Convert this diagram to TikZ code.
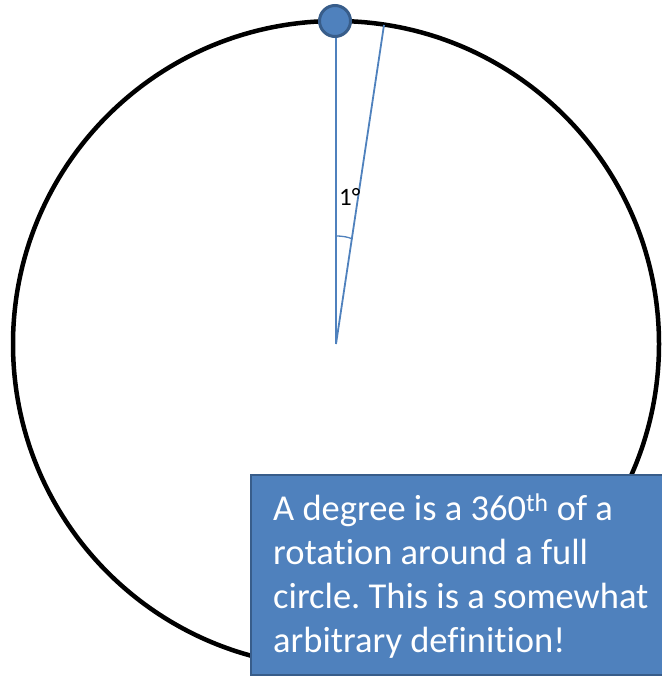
\documentclass[tikz,border=0pt]{standalone}
\usepackage{fontspec}
\setmainfont{Carlito}[Ligatures={NoCommon}]
\frenchspacing
\definecolor{accent}{HTML}{4F81BD}
\definecolor{accentdark}{HTML}{385D8A}
\tikzset{
  ray/.style={draw=accent, line width=1.8pt},
  rim/.style={draw=black, line width=4.5pt},
  dotmark/.style={circle, fill=accent, draw=accentdark, line width=3pt, minimum size=31pt, inner sep=0pt},
  notebox/.style={fill=accent, draw=accentdark, line width=2.5pt},
  notetext/.style={text=white, font=\fontsize{36.5}{44}\selectfont, align=left, anchor=north west, inner sep=0pt}
}
\begin{document}
\begin{tikzpicture}[x=1pt,y=-1pt]
\useasboundingbox (0,0) rectangle (661,677);
\coordinate (C) at (336,344);
\draw[rim] (C) circle[radius=323];
\coordinate (T) at (336,22);
\coordinate (E) at (384,25);
\draw[ray] (C) -- (T);
\draw[ray] (C) -- (E);
\draw[ray, line width=1.3pt] (335.5,236) .. controls (343,236) and (348,237) .. (352.5,239);
\node[anchor=base west, inner sep=0pt, font=\fontsize{25}{28}\selectfont] (lbl) at (339,205) {1°};
\node[dotmark] (dot) at (335,21) {};
\draw[notebox] (251,475) rectangle (690,675);
\node[notetext] (txt) at (273,494) {A degree is a 360\textsuperscript{th} of a\\rotation around a full\\circle. This is a somewhat\\arbitrary definition!};
\end{tikzpicture}
\end{document}
